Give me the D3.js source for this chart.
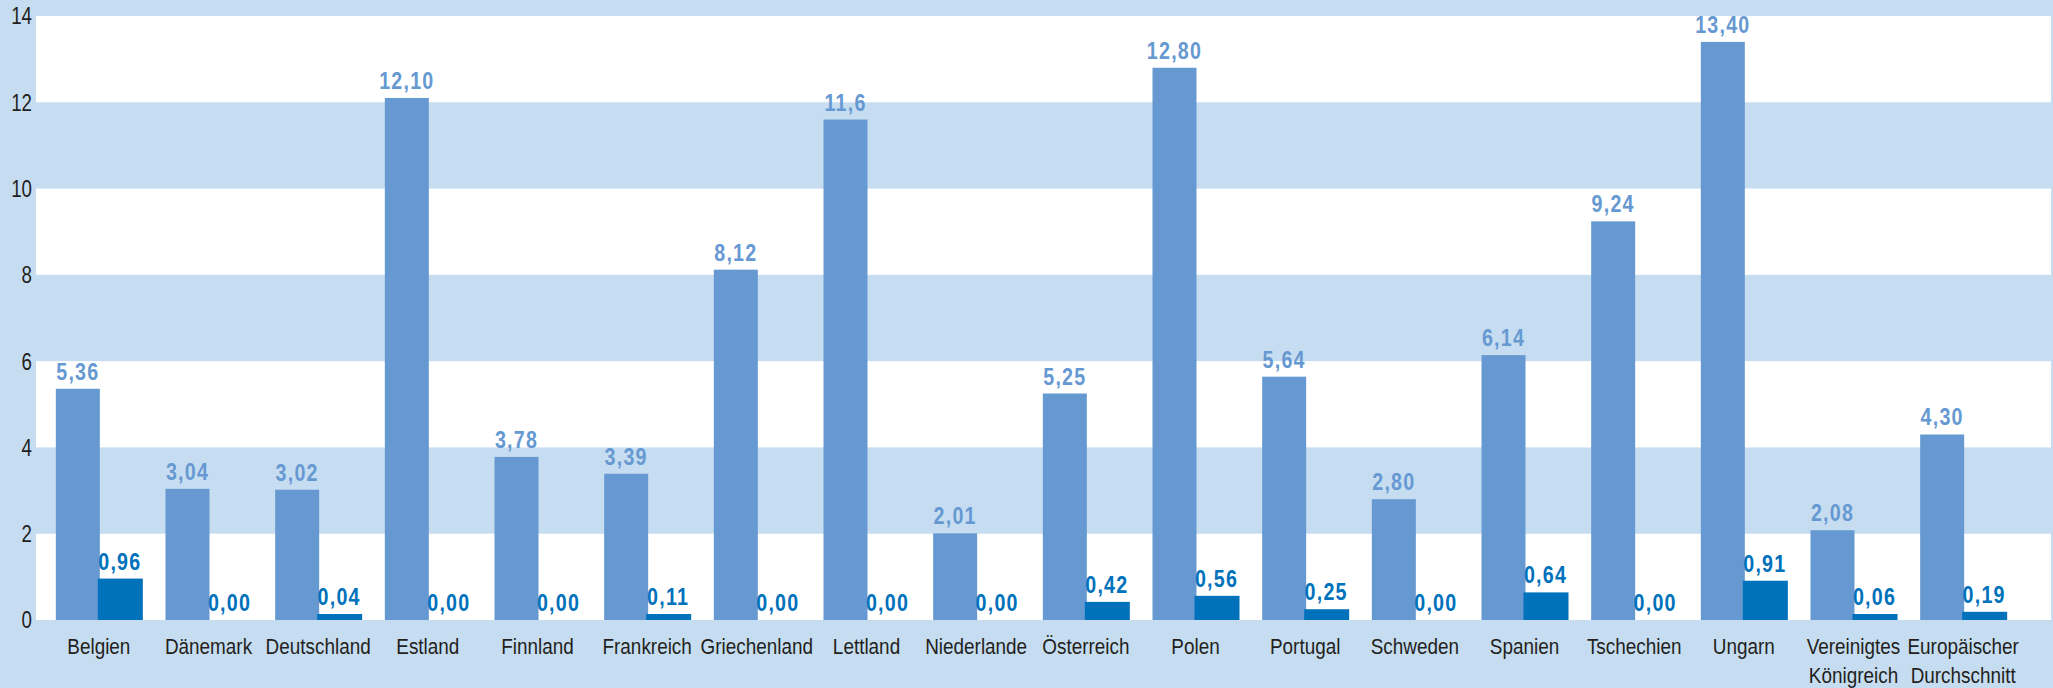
<!DOCTYPE html>
<html>
<head>
<meta charset="utf-8">
<script src="https://cdn.jsdelivr.net/npm/d3@7"></script>
<style>
  body { margin: 0; background: #c6ddf1; }
  svg { display: block; }
  text { font-family: "Liberation Sans", Arial, sans-serif; }
  .cat { font-size: 22px; fill: #231f20; }
  .tick-label { font-size: 24px; fill: #231f20; }
  .val { font-size: 24px; font-weight: bold; letter-spacing: 1.5px; }
</style>
</head>
<body>
<svg id="chart"></svg>
<script>
const categories = ["Belgien", "Dänemark", "Deutschland", "Estland", "Finnland", "Frankreich", "Griechenland", "Lettland",
    "Niederlande", "Österreich", "Polen", "Portugal", "Schweden", "Spanien", "Tschechien", "Ungarn",
    "Vereinigtes\nKönigreich", "Europäischer\nDurchschnitt"];
const seriesA = [5.36, 3.04, 3.02, 12.10, 3.78, 3.39, 8.12, 11.6, 2.01, 5.25, 12.80, 5.64, 2.80, 6.14, 9.24, 13.40, 2.08, 4.30];
const seriesB = [0.96, 0.00, 0.04, 0.00, 0.00, 0.11, 0.00, 0.00, 0.00, 0.42, 0.56, 0.25, 0.00, 0.64, 0.00, 0.91, 0.06, 0.19];
const labelsA = ["5,36", "3,04", "3,02", "12,10", "3,78", "3,39", "8,12", "11,6", "2,01", "5,25", "12,80", "5,64", "2,80", "6,14", "9,24", "13,40", "2,08", "4,30"];
const labelsB = ["0,96", "0,00", "0,04", "0,00", "0,00", "0,11", "0,00", "0,00", "0,00", "0,42", "0,56", "0,25", "0,00", "0,64", "0,00", "0,91", "0,06", "0,19"];
const yTicks = [0, 2, 4, 6, 8, 10, 12, 14];

const width = 2053, height = 688;
const colorA = "#6699d1";
const colorB = "#0071bb";
const bandColor = "#c6ddf1";
const narrow = 0.82; // condensed look of the original typeface

const svg = d3.select("#chart")
    .attr("width", width)
    .attr("height", height);

// background
svg.append("rect").attr("width", width).attr("height", height).attr("fill", bandColor);

const plotLeft = 36, plotRight = 2051;

const y = d3.scaleLinear()
    .domain([0, 14])
    .range([620, 16]);

const x = d3.scaleBand()
    .domain(categories)
    .range([44, 2018]);

const barW = 44;

// white plot area + alternating bands
svg.append("rect")
    .attr("x", plotLeft).attr("y", y(14))
    .attr("width", plotRight - plotLeft).attr("height", y(0) - y(14))
    .attr("fill", "#ffffff");

const bands = d3.range(0, 14, 2).filter(v => (v / 2) % 2 === 1);
svg.selectAll(".band")
    .data(bands)
    .enter()
    .append("rect")
    .attr("class", "band")
    .attr("x", plotLeft)
    .attr("y", d => y(d + 2))
    .attr("width", plotRight - plotLeft)
    .attr("height", d => y(d) - y(d + 2))
    .attr("fill", bandColor);

// y tick labels
svg.selectAll(".tick-label")
    .data(yTicks)
    .enter()
    .append("text")
    .attr("class", "tick-label")
    .attr("transform", d => `translate(32,${y(d)}) scale(0.78,1)`)
    .attr("dy", "0.35em")
    .attr("text-anchor", "end")
    .text(d => d);

const groups = svg.selectAll(".grp")
    .data(categories.map((c, i) => ({ cat: c, a: seriesA[i], b: seriesB[i], la: labelsA[i], lb: labelsB[i] })))
    .enter()
    .append("g")
    .attr("class", "grp")
    .attr("transform", d => `translate(${x(d.cat) + x.bandwidth() / 2},0)`);

// series A bars
groups.append("rect")
    .attr("x", -barW + 1)
    .attr("y", d => y(d.a))
    .attr("width", barW)
    .attr("height", d => y(0) - y(d.a))
    .attr("fill", colorA);

// series B bars (tiny values kept visible)
const hB = d => d.b > 0 ? Math.max(y(0) - y(d.b), 6) : 0;
groups.append("rect")
    .attr("x", -1)
    .attr("y", d => y(0) - hB(d))
    .attr("width", barW + 1)
    .attr("height", hB)
    .attr("fill", colorB);

// value labels
groups.append("text")
    .attr("class", "val")
    .attr("transform", d => `translate(${-barW / 2 + 1},${y(d.a) - 9}) scale(${narrow},1)`)
    .attr("text-anchor", "middle")
    .attr("fill", colorA)
    .text(d => d.la);

groups.append("text")
    .attr("class", "val")
    .attr("transform", d => `translate(${barW / 2 - 1},${y(0) - hB(d) - 9}) scale(${narrow},1)`)
    .attr("text-anchor", "middle")
    .attr("fill", colorB)
    .text(d => d.lb);

// category labels
const cat = groups.append("text")
    .attr("class", "cat")
    .attr("text-anchor", "middle")
    .attr("transform", `translate(0,654) scale(0.86,1)`);

cat.selectAll("tspan")
    .data(d => d.cat.split("\n"))
    .enter()
    .append("tspan")
    .attr("x", 0)
    .attr("dy", (d, i) => i === 0 ? 0 : 29)
    .text(d => d);
</script>
</body>
</html>
